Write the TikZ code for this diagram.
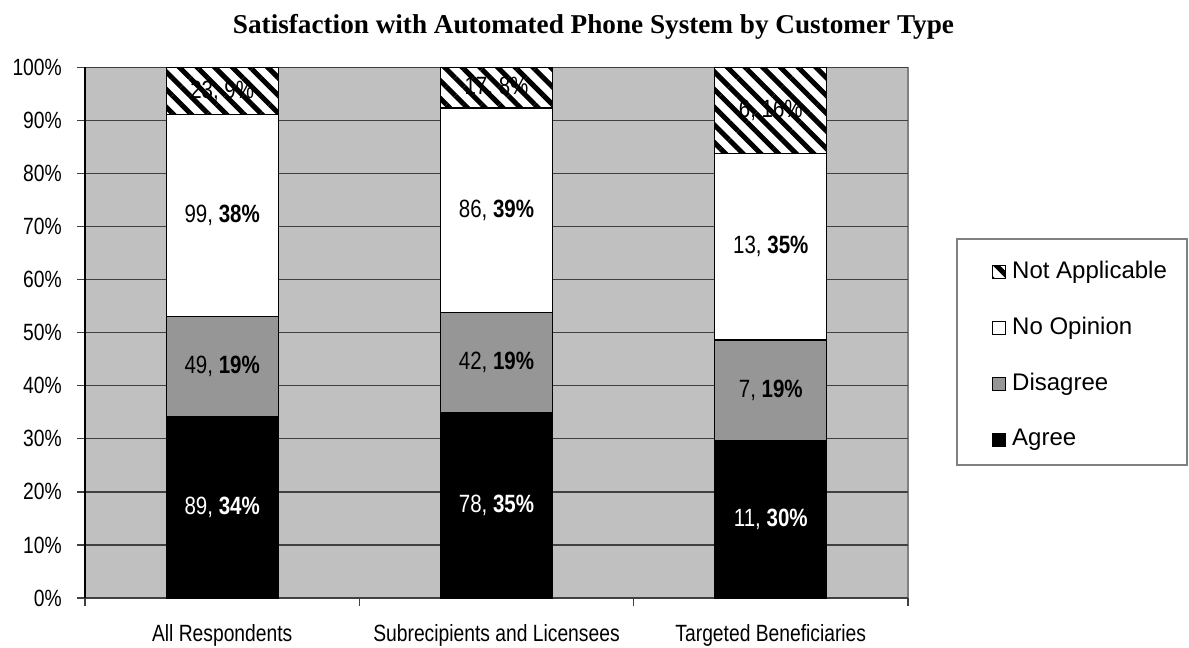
\documentclass[tikz,border=0pt]{standalone}
\usepackage{fontspec}
\setmainfont{Liberation Sans}
\newfontfamily\narrowfont[FakeStretch=0.82]{Liberation Sans}
\newfontfamily\titlefont{Liberation Serif}
\usetikzlibrary{patterns.meta}
\definecolor{plotgray}{HTML}{C0C0C0}
\definecolor{disgray}{HTML}{969696}
\definecolor{gridgray}{HTML}{404040}
\definecolor{framegray}{HTML}{808080}

\begin{document}
\begin{tikzpicture}[x=1pt,y=1pt]
\tikzset{every node/.style={inner sep=0pt}}
\tikzset{seg/.style={draw=black,line width=1.3pt}}
\tikzset{agree/.style={seg,fill=black}}
\tikzset{disagree/.style={seg,fill=disgray}}
\tikzset{noopinion/.style={seg,fill=white}}
\tikzset{notapp/.style={seg,fill=white,postaction={pattern={Lines[angle=-45,distance=12.5pt,line width=5pt]}}}}
\tikzset{barlabel/.style={font=\narrowfont\fontsize{25}{28}\selectfont}}
\tikzset{axislabel/.style={font=\narrowfont\fontsize{23.5}{26}\selectfont}}
\tikzset{legendtext/.style={font=\fontsize{24}{27}\selectfont,anchor=west}}

\useasboundingbox (0,0) rectangle (1189,648);

% title
\node[font=\titlefont\bfseries\fontsize{27.2}{32}\selectfont,anchor=base] (title) at (593.5,614) {Satisfaction with Automated Phone System by Customer Type};

% plot area, grid and axes
\fill[plotgray] (85,50) rectangle (908,580.5);
\draw[framegray,line width=1.2pt] (908,50) -- (908,580.5);
\foreach \p in {0,...,10}{
  \pgfmathtruncatemacro\pct{10*\p}
  \draw[gridgray,line width=1.3pt] (77,50+\p*53.05) -- (908,50+\p*53.05);
  \node[axislabel,anchor=east] (ylab\p) at (62,50+\p*53.05) {\pct\%};
}
\draw[black,line width=1.3pt] (85,50) -- (85,580.5);
\foreach \t in {85,359.3,633.7,908}
  \draw[gridgray,line width=1.3pt] (\t,50) -- (\t,42);

% bars: center / agree top / disagree top / no opinion top / labels
\foreach \i/\cx/\ya/\yd/\yn/\la/\pa/\ld/\pd/\ln/\pn/\lx/\px/\cat in {
  1/222.2/34.23/53.08/91.15/89/34/49/19/99/38/23/9/All Respondents,
  2/496.5/34.98/53.81/92.38/78/35/42/19/86/39/17/8/Subrecipients and Licensees,
  3/770.8/29.73/48.65/83.78/11/30/7/19/13/35/6/16/Targeted Beneficiaries}{
  \draw[agree]     (\cx-56,50) rectangle (\cx+56,50+\ya*5.305);
  \draw[disagree]  (\cx-56,50+\ya*5.305) rectangle (\cx+56,50+\yd*5.305);
  \draw[noopinion] (\cx-56,50+\yd*5.305) rectangle (\cx+56,50+\yn*5.305);
  \draw[notapp]    (\cx-56,50+\yn*5.305) rectangle (\cx+56,580.5);
  \node[barlabel,text=white] (agree\i) at (\cx,50+\ya*2.6525) {\la, \textbf{\pa\%}};
  \node[barlabel] (disagree\i) at (\cx,50+\ya*2.6525+\yd*2.6525) {\ld, \textbf{\pd\%}};
  \node[barlabel] (noop\i) at (\cx,50+\yd*2.6525+\yn*2.6525) {\ln, \textbf{\pn\%}};
  \node[barlabel] (na\i) at (\cx,315.25+\yn*2.6525) {\lx, \px\%};
  \node[axislabel,anchor=base] (cat\i) at (\cx,6) {\cat};
}

% legend
\draw[framegray,line width=1.2pt] (957,409) rectangle (1187,183);
\foreach \k/\st/\txt/\yy in {1/notapp/Not Applicable/376, 2/noopinion/No Opinion/320,
  3/disagree/Disagree/264, 4/agree/Agree/208}{
  \draw[\st,line width=1pt] (992,\yy-6.5) rectangle (1005,\yy+6.5);
  \node[legendtext] (leg\k) at (1012,\yy) {\txt};
}
\end{tikzpicture}
\end{document}
